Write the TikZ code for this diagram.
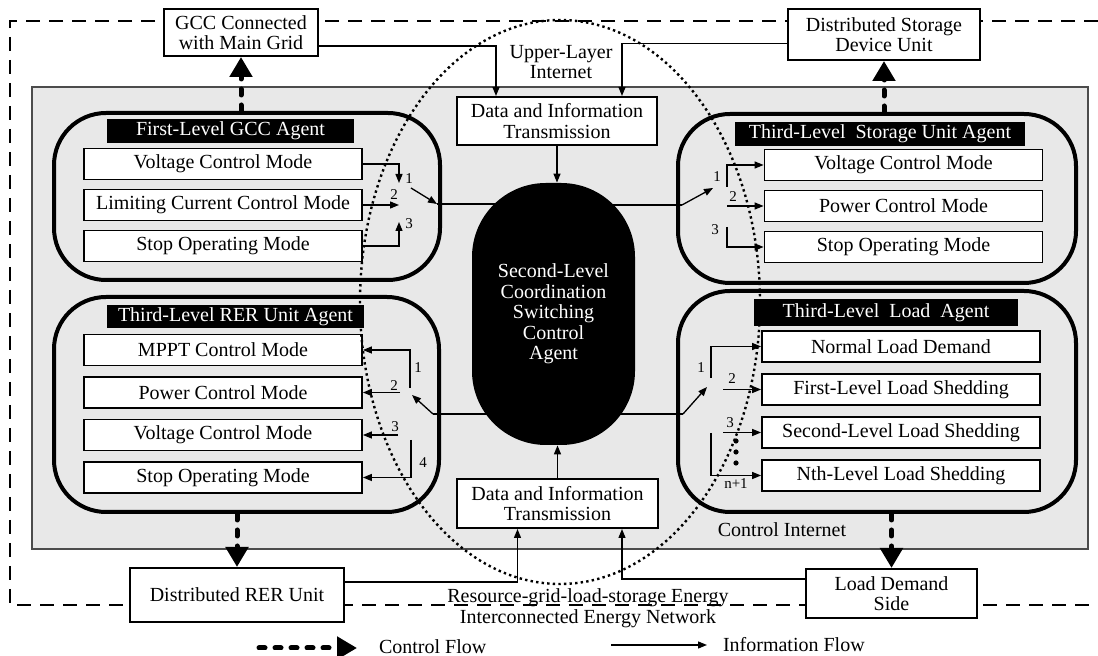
\documentclass[tikz,border=0pt]{standalone}
\usepackage{fontspec}
\setmainfont{Liberation Serif}
\usetikzlibrary{arrows.meta}

\begin{document}
\begin{tikzpicture}[x=0.5pt,y=-0.5pt,font=\fontsize{10}{10.3}\selectfont]
	\tikzstyle{box} = [draw, line width=1pt, fill=white, align=center, inner sep=0pt]
	\tikzstyle{mode} = [draw, line width=0.9pt, fill=white, minimum width=139pt, minimum height=15.5pt, inner sep=0pt]
	\tikzstyle{agentbox} = [draw, line width=2pt, rounded corners=26pt, inner sep=0pt]
	\tikzstyle{title} = [fill=black, text=white, inner sep=0pt, minimum height=12pt]
	\tikzstyle{info} = [line width=0.65pt, -{Triangle[length=4.5pt,width=3.5pt]}]
	\tikzstyle{plain} = [line width=0.65pt]
	\tikzstyle{ctrl} = [line width=2.5pt, dash pattern=on 3pt off 5pt, line cap=round, -{Triangle[length=10pt,width=11pt]}]
	\tikzstyle{num} = [font=\fontsize{7.5}{8}\selectfont, inner sep=0pt]
	\useasboundingbox (0,0) rectangle (1098,656);

	% outer energy network and control internet
	\draw[line width=1.2pt, dash pattern=on 7pt off 4.5pt] (1098,21) -- (10,21) -- (10,605) -- (1098,605);
	\node[draw=black!70, line width=0.6pt, fill=black!9, minimum width=528pt, minimum height=231pt, inner sep=0pt] (netbox) at (560,318) {};

	% outside units
	\node[box, minimum width=77pt, minimum height=23.5pt] (gccbox) at (241,32.5) {GCC Connected\\with Main Grid};
	\node[box, minimum width=96pt, minimum height=25.5pt] (stobox) at (884,34.5) {Distributed Storage\\Device Unit};
	\node[box, minimum width=107pt, minimum height=27pt] (rerbox) at (237,595) {Distributed RER Unit};
	\node[box, minimum width=85.5pt, minimum height=24.5pt] (loadbox) at (891.5,593.5) {Load Demand\\Side};
	\node[box, minimum width=100pt, minimum height=24pt] (datatop) at (557,121) {Data and Information\\Transmission};
	\node[box, minimum width=100.5pt, minimum height=24.5pt] (databot) at (557.5,503.5) {Data and Information\\Transmission};

	% agents
	\node[agentbox, minimum width=193pt, minimum height=83.5pt] (gccagent) at (247,196.5) {};
	\node[agentbox, minimum width=199pt, minimum height=84.5pt] (stoagent) at (877,198.5) {};
	\node[agentbox, minimum width=192.5pt, minimum height=107.5pt] (reragent) at (246.5,404.5) {};
	\node[agentbox, minimum width=199pt, minimum height=110.5pt] (loadagent) at (877,401.5) {};

	\node[title, minimum width=123.5pt] (gcctitle) at (230.5,131) {First-Level GCC Agent};
	\node[title, minimum width=145pt] (stotitle) at (880,134) {Third-Level\ \ Storage Unit Agent};
	\node[title, minimum width=128.5pt, minimum height=11.5pt] (rertitle) at (235.5,316.5) {Third-Level RER Unit Agent};
	\node[title, minimum width=132pt, minimum height=13.5pt] (loadtitle) at (886,312.5) {Third-Level\ \ Load\ \ Agent};

	% modes
	\node[mode] (gv) at (223,164) {Voltage Control Mode};
	\node[mode, node distance=20.5pt] (gl) [below of=gv] {Limiting Current Control Mode};
	\node[mode, node distance=20.5pt] (gst) [below of=gl] {Stop Operating Mode};

	\node[mode] (sv) at (903.5,165) {Voltage Control Mode};
	\node[mode, node distance=20.5pt] (sp) [below of=sv] {Power Control Mode};
	\node[mode, node distance=20.5pt] (sst) [below of=sp] {Stop Operating Mode};

	\node[mode] (rm) at (223,350) {MPPT Control Mode};
	\node[mode, node distance=21.25pt] (rp) [below of=rm] {Power Control Mode};
	\node[mode, node distance=21.25pt] (rv) [below of=rp] {Voltage Control Mode};
	\node[mode, node distance=21.25pt] (rst) [below of=rv] {Stop Operating Mode};

	\node[mode] (ln) at (901,346.5) {Normal Load Demand};
	\node[mode, node distance=21.5pt] (l1) [below of=ln] {First-Level Load Shedding};
	\node[mode, node distance=21.5pt] (l2) [below of=l1] {Second-Level Load Shedding};
	\node[mode, node distance=21.5pt] (l3) [below of=l2] {Nth-Level Load Shedding};

	% switch points
	\coordinate (gs1) at (399,183);
	\coordinate (gs3) at (399,222);
	\coordinate (gsw) at (411,188);
	\coordinate (gout) at (437,204);
	\coordinate (sa) at (682,205);
	\coordinate (sb) at (713,188);
	\coordinate (ss1) at (727,187);
	\coordinate (ss2) at (727,206);
	\coordinate (ss3) at (727,227);
	\coordinate (ra) at (433,414);
	\coordinate (rb) at (412,395);
	\coordinate (rs1) at (410,388);
	\coordinate (rs2) at (400,392);
	\coordinate (rs3) at (398,435);
	\coordinate (rs4) at (411,440);
	\coordinate (la) at (683,414);
	\coordinate (lb) at (707,387);
	\coordinate (ls1) at (711,378);
	\coordinate (ls2) at (723,388);
	\coordinate (ls3) at (723,431);
	\coordinate (ls4) at (711,433);

	\draw[plain] (gout) -- (gout -| netbox.center);
	\draw[plain] (sa) -- (sa -| netbox.center);
	\draw[plain] (ra) -- (ra -| netbox.center);
	\draw[plain] (la) -- (la -| netbox.center);

	% second-level agent
	\node[fill=black, text=white, rounded corners=37pt, minimum width=81.5pt, minimum height=131pt, align=center, inner sep=0pt] (agent) at (553.5,314) {Second-Level\\Coordination\\Switching\\Control\\Agent};

	% information flow
	\draw[info] ([yshift=-6.75pt]gccbox.east) -| ([xshift=-30.5pt]datatop.north);
	\draw[info] ([yshift=-4.5pt]stobox.west) -| ([xshift=32.5pt]datatop.north);
	\draw[info] (datatop.south) -- (datatop.south |- agent.north);
	\draw[info] (databot.north) -- (databot.north |- agent.south);
	\draw[info] ([yshift=6.5pt]rerbox.east) -| ([xshift=-20pt]databot.south);
	\draw[info] ([yshift=7.25pt]loadbox.west) -| ([xshift=32.25pt]databot.south);

	\draw[info] (gv.east) -| (gs1);
	\draw[info] (gl.east) -- (gl.east -| gs1);
	\draw[info] (gst.east) -| (gs3);
	\draw[info] (gsw) -- (gout);

	\draw[info] (sa) -- (sb);
	\draw[info] (ss1) |- (sv.west);
	\draw[info] (sp.west -| ss2) -- (sp.west);
	\draw[info] (ss3) |- (sst.west);

	\draw[info] (ra) -- (rb);
	\draw[info] (rs1) |- (rm.east);
	\draw[info] (rp.east -| rs2) -- (rp.east);
	\draw[info] (rv.east -| rs3) -- (rv.east);
	\draw[info] (rs4) |- (rst.east);

	\draw[info] (la) -- (lb);
	\draw[info] (ls1) |- (ln.west);
	\draw[info] (l1.west -| ls2) -- (l1.west);
	\draw[info] (l2.west -| ls3) -- (l2.west);
	\draw[info] (ls4) |- (l3.west);

	% switch numbers
	\node[num] (gn1) at (409,179) {1};
	\node[num] (gn2) at (394,195) {2};
	\node[num] (gn3) at (409,224) {3};
	\node[num] (sn1) at (717,177) {1};
	\node[num] (sn2) at (733,197) {2};
	\node[num] (sn3) at (715,230) {3};
	\node[num] (rn1) at (418,368) {1};
	\node[num] (rn2) at (394,386) {2};
	\node[num] (rn3) at (395,427) {3};
	\node[num] (rn4) at (423,463) {4};
	\node[num] (ln1) at (701,368) {1};
	\node[num] (ln2) at (732,379) {2};
	\node[num] (ln3) at (730,423) {3};
	\node[num] (lnn) at (736,484) {n+1};
	\fill (736,441) circle[radius=1.3pt];
	\fill (736,452) circle[radius=1.3pt];
	\fill (736,463) circle[radius=1.3pt];

	% control flow
	\draw[ctrl] (gccagent.north -| gccbox.south) -- (gccbox.south);
	\draw[ctrl] (stoagent.north -| stobox.south) -- (stobox.south);
	\draw[ctrl] (reragent.south -| rerbox.north) -- (rerbox.north);
	\draw[ctrl] (loadagent.south -| loadbox.north) -- (loadbox.north);

	% network labels
	\draw[line width=1.2pt, dash pattern=on 1.2pt off 1.6pt] (560,302) ellipse [x radius=100pt, y radius=141pt];
	\node[align=center] (upnet) at (561,62) {Upper-Layer\\Internet};
	\node (ctrlnet) at (782,530) {Control Internet};
	\node[align=center] (energynet) at (588,608.5) {Resource-grid-load-storage Energy\\Interconnected Energy Network};

	% legend
	\coordinate (cf1) at (259,648);
	\coordinate (cf2) at (357,648);
	\draw[ctrl] (cf1) -- (cf2);
	\node[anchor=west] (cflabel) at (372,647) {Control Flow};
	\coordinate (if1) at (611,645);
	\coordinate (if2) at (707,645);
	\draw[info] (if1) -- (if2);
	\node[anchor=west] (iflabel) at (716,645) {Information Flow};
\end{tikzpicture}
\end{document}
